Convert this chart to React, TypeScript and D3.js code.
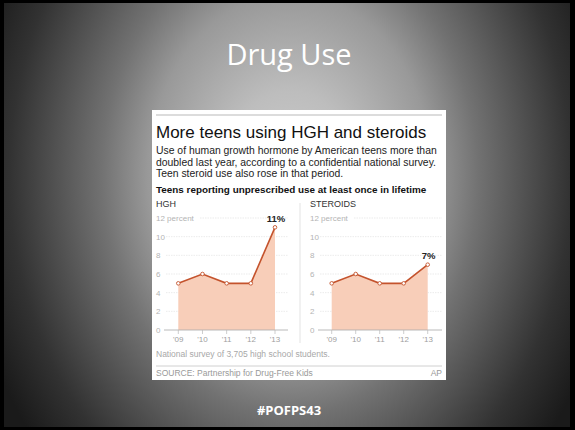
import * as d3 from 'd3';

// chart values
const years = ["'09", "'10", "'11", "'12", "'13"];
const hgh = [5, 6, 5, 5, 11];
const steroids = [5, 6, 5, 5, 7];
const yTicks = [0, 2, 4, 6, 8, 10, 12];
const panelNames = ['HGH', 'STEROIDS'];
const subtitleLines = [
  'Use of human growth hormone by American teens more than',
  'doubled last year, according to a confidential national survey.',
  'Teen steroid use also rose in that period.',
];

const W = 575;
const H = 430;
const font = '"Liberation Sans", Arial, sans-serif';

type PanelProps = { name: string; values: number[]; left: number; x0: number; x1: number; right: number };

function Panel({ name, values, left, x0, x1, right }: PanelProps) {
  const x = d3.scalePoint<string>().domain(years).range([x0, x1]);
  const y = d3.scaleLinear().domain([0, 12]).range([330, 218]);
  const pts = values.map((v, i) => ({ k: years[i], v }));
  const area = d3.area<{ k: string; v: number }>()
    .x(d => x(d.k) as number)
    .y0(y(0))
    .y1(d => y(d.v));
  const line = d3.line<{ k: string; v: number }>()
    .x(d => x(d.k) as number)
    .y(d => y(d.v));
  const last = pts[pts.length - 1];

  return (
    <g fontFamily={font}>
      <text x={left} y={207} fontSize={9} fill="#333">{name}</text>
      {yTicks.map(t => (
        <g key={t}>
          {t > 0 && (
            <line x1={t === 12 ? left + 44 : left + 10} x2={right} y1={y(t)} y2={y(t)}
              stroke="#e6e6e6" strokeWidth={0.8} strokeDasharray="1.5 1" />
          )}
          <text x={left} y={y(t) + 3} fontSize={8} fill="#b4b4b4">
            {t === 12 ? '12 percent' : t}
          </text>
        </g>
      ))}
      <path d={area(pts) || ''} fill="#f8ceb9" />
      <line x1={left + 8} x2={right} y1={y(0)} y2={y(0)} stroke="#a8a8a8" strokeWidth={0.8} />
      {years.map(k => (
        <line key={k} x1={x(k)} x2={x(k)} y1={y(0)} y2={y(0) + 4} stroke="#b8b8b8" strokeWidth={0.7} />
      ))}
      <path d={line(pts) || ''} fill="none" stroke="#c4532d" strokeWidth={1.6} />
      {pts.map(d => (
        <circle key={d.k} cx={x(d.k)} cy={y(d.v)} r={1.8} fill="#fff" stroke="#c4532d" strokeWidth={0.9} />
      ))}
      <text x={(x(last.k) as number) + 1} y={y(last.v) - 5.5} fontSize={9.5} fontWeight="bold"
        fill="#222" textAnchor="middle">{last.v}%</text>
      {years.map(k => (
        <text key={k} x={x(k)} y={342} fontSize={8} fill="#a0a0a0" textAnchor="middle">{k}</text>
      ))}
    </g>
  );
}

export default function App() {
  return (
    <div style={{ position: 'fixed', left: 0, top: 0 }}>
      <svg width={W} height={H} style={{ display: 'block' }}>
        <defs>
          <radialGradient id="bg" gradientUnits="userSpaceOnUse" cx={290} cy={175} r={330}
            gradientTransform="translate(290 175) scale(1 1.27) translate(-290 -175)">
            <stop offset="0" stopColor="#cdcdcd" />
            <stop offset="0.2" stopColor="#bdbdbd" />
            <stop offset="0.43" stopColor="#999" />
            <stop offset="0.57" stopColor="#727272" />
            <stop offset="0.85" stopColor="#323232" />
            <stop offset="1" stopColor="#1a1a1a" />
          </radialGradient>
        </defs>
        <rect width={W} height={H} fill="#000" />
        <rect x={4} y={3} width={566} height={424} fill="url(#bg)" />

        <text x={289} y={65} textAnchor="middle" fontFamily='"Open Sans", sans-serif' fontSize={29} fill="#fff">
          Drug Use
        </text>

        {/* AP graphic */}
        <rect x={152} y={110} width={294} height={270} fill="#fff" />
        <line x1={156} x2={442} y1={115} y2={115} stroke="#d0d0d0" strokeWidth={1.5} />
        <text x={156} y={138} fontFamily={font} fontSize={17} fill="#111">More teens using HGH and steroids</text>
        {subtitleLines.map((s, i) => (
          <text key={i} x={156} y={154 + i * 11.5} fontFamily={font} fontSize={10.4} fill="#222">{s}</text>
        ))}
        <text x={156} y={193} fontFamily={font} fontSize={9.9} fontWeight="bold" fill="#111">
          Teens reporting unprescribed use at least once in lifetime
        </text>
        <line x1={300} x2={300} y1={203} y2={343} stroke="#dcdcdc" strokeWidth={0.8} />

        <Panel name={panelNames[0]} values={hgh} left={156} x0={178.3} x1={275} right={288} />
        <Panel name={panelNames[1]} values={steroids} left={310} x0={331.7} x1={427.7} right={442} />

        <text x={156} y={357} fontFamily={font} fontSize={8.5} fill="#a8a8a8">
          National survey of 3,705 high school students.
        </text>
        <line x1={156} x2={442} y1={366} y2={366} stroke="#d0d0d0" strokeWidth={1} />
        <text x={156} y={376} fontFamily={font} fontSize={8.5} fill="#999">SOURCE: Partnership for Drug-Free Kids</text>
        <text x={442} y={376} fontFamily={font} fontSize={8.5} fill="#999" textAnchor="end">AP</text>

        <text x={289} y={415} textAnchor="middle" fontFamily='"Open Sans", sans-serif' fontSize={13}
          fontWeight="bold" fill="#fff">#POFPS43</text>
      </svg>
    </div>
  );
}
